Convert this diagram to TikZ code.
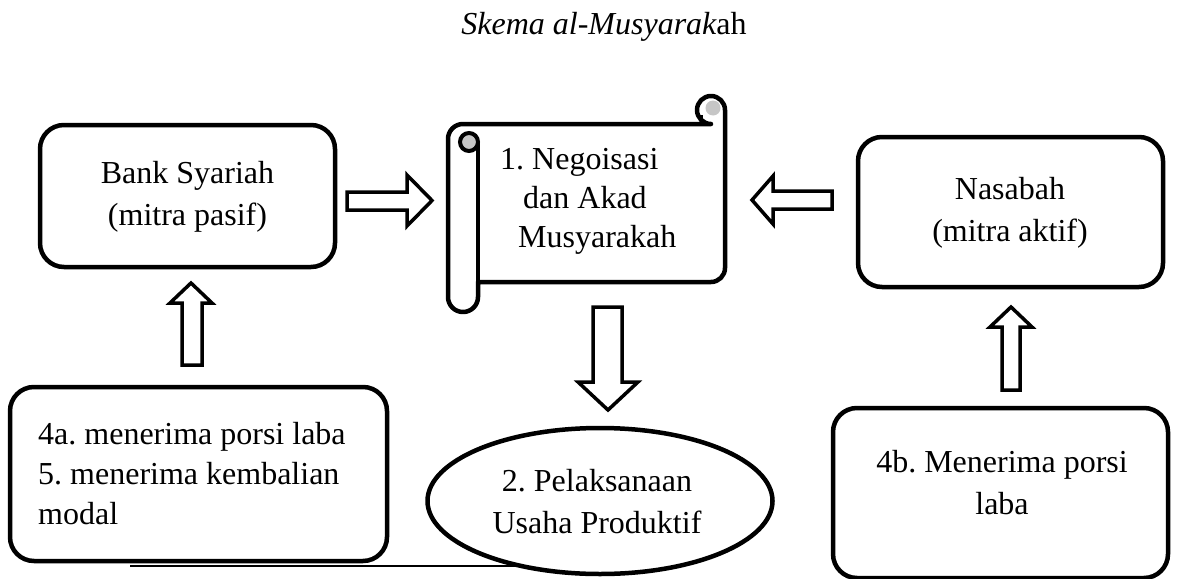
\documentclass[tikz,border=0pt]{standalone}
\usepackage{fontspec}
\setmainfont{Liberation Serif}
\usetikzlibrary{shapes.geometric}
\begin{document}
\frenchspacing
\begin{tikzpicture}[x=1pt,y=-1pt,
  box/.style={draw, line width=4.5pt, rounded corners=24pt, fill=white, inner sep=0pt},
  oval/.style={draw, line width=4.5pt, fill=white, ellipse, inner sep=0pt},
  blockarrow/.style={draw, line width=3.5pt, fill=white, line join=miter},
  scrollline/.style={draw, line width=4.5pt, line join=round},
  txt/.style={font=\fontsize{32}{42}\selectfont, align=center, inner sep=0pt},
  txtl/.style={font=\fontsize{32}{40}\selectfont, align=left, inner sep=0pt}]
\useasboundingbox[fill=white] (0,0) rectangle (1177,578);

% title
\node[inner sep=0pt, anchor=base, font=\fontsize{32}{36}\selectfont] (title) at (604,35) {\itshape Skema al-Musyarak\upshape ah};

% boxes
\node[box, minimum width=295pt, minimum height=142pt] (bank) at (187.5,196) {};
\node[txt] (banktxt) at (187.5,197) {Bank Syariah\\(mitra pasif)};

\node[box, minimum width=305pt, minimum height=150pt] (nasabah) at (1010.5,212) {};
\node[txt] (nasabahtxt) at (1010,213) {Nasabah\\(mitra aktif)};

% bottom line (runs under the ellipse)
\coordinate (lineA) at (130,566);
\coordinate (lineB) at (540,566);
\draw[line width=2.5pt] (lineA) -- (lineB);

\node[box, minimum width=377pt, minimum height=174pt] (laba4a) at (198.5,474) {};
\node[txtl, anchor=west] (laba4atxt) at (38,474) {4a. menerima porsi laba\\5. menerima kembalian\\modal};

\node[box, minimum width=335pt, minimum height=170pt] (laba4b) at (1000.5,493) {};
\node[txt] (laba4btxt) at (1002,483) {4b. Menerima porsi\\laba};

\node[oval, minimum width=345pt, minimum height=146pt] (usaha) at (600,501) {};
\node[txt] (usahatxt) at (597,502) {2. Pelaksanaan\\Usaha Produktif};

% scroll
\path[scrollline, fill=white] (478,282) -- (711,282)
  arc[start angle=90, end angle=0, radius=14] -- (725,110)
  arc[start angle=0, end angle=-270, radius=14] -- (463,124)
  arc[start angle=-90, end angle=-180, radius=15] -- (448,297)
  arc[start angle=180, end angle=0, radius=15] -- cycle;
\draw[line width=4.5pt] (478,297) -- (478,142);
\draw[line width=4pt, fill=gray!45] (469,142) circle[radius=9];
\fill[gray!45] (713,108) circle[radius=7.5];
\draw[line width=3pt] (701,115) -- (701,124);
\node[txtl, font=\fontsize{32}{39}\selectfont, anchor=west] (akad) at (500,201) {1. Negoisasi\\\hspace*{23pt}dan Akad\\\hspace*{18pt}Musyarakah};

% block arrows
\draw[blockarrow] (347,192) -- (407,192) -- (407,175) -- (432,200.5) -- (407,226) -- (407,210) -- (347,210) -- cycle;
\draw[blockarrow] (832,191) -- (773,191) -- (773,176) -- (752,200) -- (773,224) -- (773,209) -- (832,209) -- cycle;
\draw[blockarrow] (593,307) -- (622,307) -- (622,382) -- (638,382) -- (608,410) -- (578,382) -- (593,382) -- cycle;
\draw[blockarrow] (182,365) -- (182,303) -- (170,303) -- (191,283) -- (212,303) -- (202,303) -- (202,365) -- cycle;
\draw[blockarrow] (1002,390) -- (1002,327) -- (990,327) -- (1011,307) -- (1032,327) -- (1020,327) -- (1020,390) -- cycle;
\end{tikzpicture}
\end{document}
